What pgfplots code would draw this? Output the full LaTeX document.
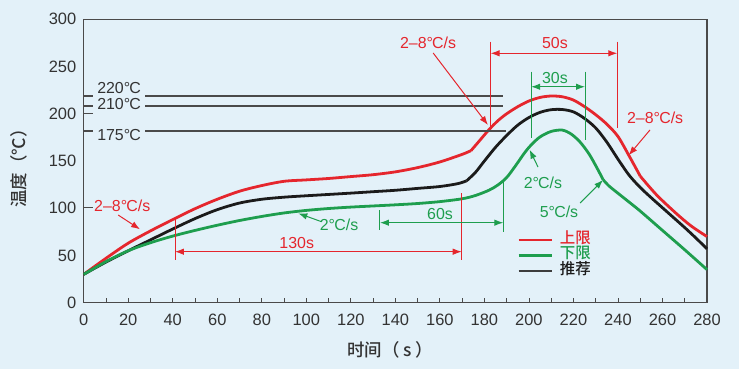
\documentclass[border=0pt]{standalone}
\usepackage{pgfplots}
\pgfplotsset{compat=1.18}
\usepackage{fontspec}
\setmainfont{Liberation Sans}
\newfontfamily\cjk{Noto Sans CJK SC}[UprightFont=* Medium]
\usetikzlibrary{arrows.meta}
\definecolor{bgc}{HTML}{E3F1F9}
\definecolor{rc}{HTML}{E5262D}
\definecolor{gc}{HTML}{1E9E4E}
\definecolor{kc}{HTML}{1B1B1B}
\definecolor{axc}{HTML}{4A4A4A}
\definecolor{txc}{HTML}{333333}
\newcommand{\dC}{°\kern-0.8ptC}
\newcommand{\fs}{\fontsize{16}{18}\selectfont}
\tikzset{
  tip/.style={-{Latex[length=9bp,width=6.5bp]}},
  dtip/.style={{Latex[length=9bp,width=6.5bp]}-{Latex[length=9bp,width=6.5bp]}},
}
\begin{document}
\begin{tikzpicture}
\fill[bgc] (0,0) rectangle (739bp,369bp);
\useasboundingbox (0,0) rectangle (739bp,369bp);
\begin{axis}[
  at={(83.7bp,66.3bp)}, anchor=south west, scale only axis,
  width=623.3bp, height=283.4bp,
  xmin=0, xmax=280, ymin=0, ymax=300,
  xtick={0,20,...,280}, minor xtick={10,30,...,270},
  ytick={0,50,...,300},
  tick align=inside, tick pos=left,
  major tick length=5bp, minor tick length=5bp,
  tick style={axc, line width=0.8pt},
  ytick style={draw=none},
  axis line style={axc, line width=1.1pt},
  ticklabel style={font=\fontsize{16.5}{18}\selectfont, text=txc},
  /pgf/number format/assume math mode=true,
  yticklabel style={xshift=-4bp},
  xticklabel style={yshift=-8bp},
  xlabel={\cjk 时间（ s ）}, ylabel={\cjk 温度（℃）},
  xlabel style={at={(axis description cs:0.492,-0.167)}, anchor=center, font=\fontsize{17.5}{19}\selectfont, text=txc},
  ylabel style={at={(axis description cs:-0.1046,0.489)}, anchor=center, font=\fontsize{17.5}{19}\selectfont, text=txc},
  clip=false,
  legend cell align=left,
  legend image code/.code={\draw[#1] (0bp,-1bp) -- (33.5bp,-1bp);},
  legend style={at={(axis cs:194.7,74.8)}, anchor=north west, draw=none, fill=none,
    inner sep=0pt, outer sep=0pt, row sep=1.5bp, column sep=6.5bp,
    nodes={inner sep=0pt, text height=11bp, text depth=3bp, font=\cjk\fontsize{15.5}{15.5}\selectfont}},
]
% upper limit (red)
\addplot[rc, line width=2.8pt, smooth, forget plot] coordinates {
(0,30) (10,47) (20,63) (30,76) (40,88) (50,99.5) (60,109.5) (70,118) (80,124) (90,128.5)
(100,130) (110,131.5) (120,133.5) (130,135.5) (140,138.5) (150,143) (160,149) (170,157) (174,161)};
\addplot[rc, line width=2.8pt, smooth, forget plot] coordinates {
(174,161) (178,172) (182,183) (186,192.5) (190,200) (195,207.5) (200,213.5) (205,217.3)
(210,218.8) (215,218) (220,214.5) (225,207.5) (230,199) (235,189) (240,176) (245,155.5) (250,134)};
\addplot[rc, line width=2.8pt, smooth, forget plot] coordinates {
(250,134) (257.4,114) (266.4,94) (273,81) (280,70)};
% recommended (black)
\addplot[kc, line width=2.8pt, smooth, forget plot] coordinates {
(0,30) (10,43) (20,55) (30,66.5) (40,78) (50,89) (60,98.5) (70,105.5) (80,109.5) (90,111.7)
(100,113.2) (110,114.6) (120,116) (130,117.5) (140,119) (150,121) (160,123) (168,126) (172,129)};
\addplot[kc, line width=2.8pt, smooth, forget plot] coordinates {
(172,129) (176,138) (180,150) (185,164.5) (190,177) (195,188) (200,196) (205,201.5) (210,204.3)
(215,204.5) (220,202) (225,195) (230,185) (235,170) (240,152) (245,135) (250,122) (255,111)
(260,100.5) (265,90) (270,79.5) (275,68.5) (280,57)};
% lower limit (green)
\addplot[gc, line width=2.8pt, smooth, forget plot] coordinates {
(0,30) (10,43.5) (20,55) (30,63.5) (40,70.5) (50,76.5) (60,82) (70,87) (80,91.3) (90,95)
(100,97.7) (110,99.7) (120,101.2) (130,102.4) (140,103.6) (150,105) (160,107) (170,110)
(176,113.5) (182,119) (186,124.5) (190,132.5) (194,145) (198,158.5) (201,167) (205,175.5)
(210,181.3) (215,182.7) (219,178.5) (223,170) (227,157.5) (230.5,143) (233.4,130)};
\addplot[gc, line width=2.8pt, smooth, forget plot] coordinates {
(233.4,130) (236,123.5) (239.4,117) (245,106.5) (250,97) (260,76.5) (270,56) (280,35)};

\addlegendimage{rc, line width=1.3pt}
\addlegendentry{\textcolor{rc}{上限}}
\addlegendimage{gc, line width=2.8pt}
\addlegendentry{\textcolor{gc}{下限}}
\addlegendimage{kc!85!white, line width=1.3pt}
\addlegendentry{\textcolor{kc}{推荐}}

% reference temperature lines
\draw[axc, line width=1.1pt] (0,218.8) -- (4.2,218.8) (27.6,218.8) -- (188.5,218.8);
\draw[axc, line width=1.1pt] (0,208.2) -- (4.2,208.2) (27.6,208.2) -- (188.5,208.2);
\draw[axc, line width=1.1pt] (0,181.8) -- (4.2,181.8) (27.6,181.8) -- (189.8,181.8);
\draw[axc, line width=1.1pt] (0,200.5) -- (4.2,200.5) (0,101) -- (4.2,101);
\node[font=\fs, text=txc] at (15.9,227) {220\dC};
\node[font=\fs, text=txc] at (15.9,210.3) {210\dC};
\node[font=\fs, text=txc] at (15.9,177.5) {175\dC};

% red annotations
\node[font=\fs, text=rc] at (154.7,275) {2–8\dC/s};
\draw[rc, line width=1pt, tip] (157,264.3) -- (181.6,188.1);
\draw[rc, line width=1pt] (182.8,276.3) -- (182.8,186) (239.7,276.3) -- (239.7,185);
\draw[rc, line width=1pt, dtip] (182.8,264) -- (239.7,264);
\node[font=\fs, text=rc] at (211.7,275) {50s};
\node[font=\fs, text=rc] at (256.7,195.5) {2–8\dC/s};
\draw[rc, line width=1pt, tip] (254.4,182.9) -- (244.8,156);
\node[font=\fs, text=rc] at (17.3,102.4) {2–8\dC/s};
\draw[rc, line width=1pt, tip] (15.5,92.8) -- (25.3,77.7);
\draw[rc, line width=0.8pt] (41,89.7) -- (41,45.2) (169.8,116) -- (169.8,45.2);
\draw[rc, line width=0.8pt, dtip] (41,54) -- (169.8,54);
\node[font=\fs, text=rc] at (95.7,63.5) {130s};

% green annotations
\draw[gc, line width=1pt] (201,244.5) -- (201,174.3) (225.2,244.5) -- (225.2,172.2);
\draw[gc, line width=1pt, dtip] (201,228.6) -- (225.2,228.6);
\node[font=\fs, text=gc] at (211.7,237.9) {30s};
\node[font=\fs, text=gc] at (206.3,126.7) {2\dC/s};
\draw[gc, line width=1pt, tip] (204.1,143.6) -- (200.3,162);
\node[font=\fs, text=gc] at (213.5,96) {5\dC/s};
\draw[gc, line width=1pt, tip] (223,105.5) -- (233.3,129.9);
\node[font=\fs, text=gc] at (114.7,82.2) {2\dC/s};
\draw[gc, line width=1pt, tip] (106.9,85.7) -- (96.4,94.6);
\draw[gc, line width=1pt] (133.1,98.1) -- (133.1,77) (188.5,130) -- (188.5,74.8);
\draw[gc, line width=1pt, dtip] (133.1,84.7) -- (188.5,84.7);
\node[font=\fs, text=gc] at (160.1,94) {60s};
\end{axis}
\end{tikzpicture}
\end{document}
